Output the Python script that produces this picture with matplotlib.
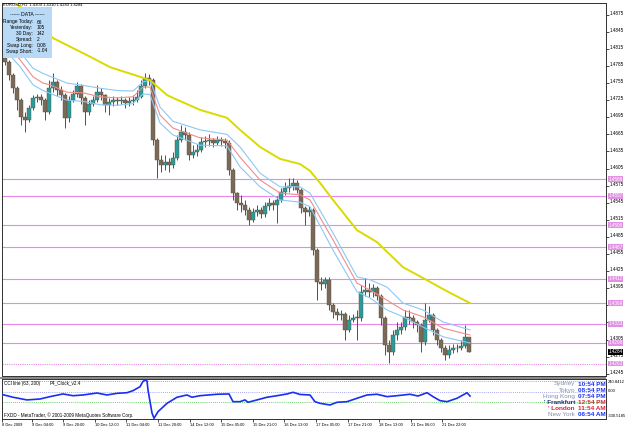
import numpy as np
import matplotlib.pyplot as plt
import matplotlib.transforms as mtransforms
from matplotlib.patches import Rectangle

plt.rcParams['font.family'] = ['Liberation Sans Narrow', 'Liberation Sans', 'DejaVu Sans']

# ---- data (EURUSD, bars) ----
first_open = 1.4799
closes = [
    1.4792, 1.4769, 1.4746, 1.4725, 1.4696, 1.4690, 1.4711, 1.4729, 1.4731, 1.4725,
    1.4704, 1.4746, 1.4757, 1.4743, 1.4734, 1.4694, 1.4725, 1.4736, 1.4750, 1.4729,
    1.4704, 1.4718, 1.4725, 1.4739, 1.4734, 1.4717, 1.4722, 1.4725, 1.4724, 1.4725,
    1.4720, 1.4724, 1.4725, 1.4731, 1.4750, 1.4764, 1.4760, 1.4655, 1.4620, 1.4611,
    1.4617, 1.4611, 1.4624, 1.4655, 1.4669, 1.4664, 1.4629, 1.4634, 1.4638, 1.4652,
    1.4653, 1.4655, 1.4650, 1.4655, 1.4653, 1.4650, 1.4603, 1.4562, 1.4545, 1.4541,
    1.4532, 1.4515, 1.4529, 1.4532, 1.4525, 1.4539, 1.4545, 1.4541, 1.4550, 1.4564,
    1.4571, 1.4574, 1.4580, 1.4567, 1.4536, 1.4529, 1.4532, 1.4462, 1.4406, 1.4403,
    1.4410, 1.4366, 1.4353, 1.4348, 1.4350, 1.4322, 1.4339, 1.4343, 1.4343, 1.4389,
    1.4392, 1.4389, 1.4396, 1.4381, 1.4343, 1.4296, 1.4283, 1.4313, 1.4322, 1.4327,
    1.4345, 1.4343, 1.4336, 1.4331, 1.4301, 1.4339, 1.4348, 1.4322, 1.4304, 1.4290,
    1.4278, 1.4287, 1.4290, 1.4290, 1.4294, 1.4309, 1.4284]
highs = [
    1.4804, 1.4796, 1.4772, 1.4750, 1.4729, 1.4704, 1.4717, 1.4734, 1.4736, 1.4735,
    1.4729, 1.4760, 1.4773, 1.4760, 1.4750, 1.4738, 1.4732, 1.4743, 1.4757, 1.4753,
    1.4732, 1.4725, 1.4732, 1.4752, 1.4746, 1.4736, 1.4729, 1.4732, 1.4731, 1.4732,
    1.4729, 1.4731, 1.4734, 1.4743, 1.4760, 1.4773, 1.4771, 1.4764, 1.4659, 1.4629,
    1.4629, 1.4624, 1.4634, 1.4664, 1.4681, 1.4678, 1.4669, 1.4646, 1.4648, 1.4660,
    1.4662, 1.4666, 1.4659, 1.4662, 1.4660, 1.4659, 1.4655, 1.4606, 1.4564, 1.4559,
    1.4550, 1.4538, 1.4536, 1.4541, 1.4538, 1.4546, 1.4553, 1.4550, 1.4557, 1.4571,
    1.4581, 1.4589, 1.4589, 1.4585, 1.4571, 1.4539, 1.4539, 1.4536, 1.4466, 1.4415,
    1.4415, 1.4414, 1.4369, 1.4360, 1.4357, 1.4353, 1.4348, 1.4350, 1.4357, 1.4401,
    1.4413, 1.4404, 1.4403, 1.4399, 1.4385, 1.4346, 1.4304, 1.4322, 1.4336, 1.4336,
    1.4357, 1.4357, 1.4348, 1.4339, 1.4334, 1.4369, 1.4364, 1.4352, 1.4325, 1.4308,
    1.4296, 1.4296, 1.4297, 1.4297, 1.4304, 1.4331, 1.4310]
lows = [
    1.4787, 1.4760, 1.4738, 1.4708, 1.4681, 1.4669, 1.4686, 1.4708, 1.4722, 1.4717,
    1.4690, 1.4700, 1.4739, 1.4732, 1.4725, 1.4676, 1.4687, 1.4722, 1.4731, 1.4718,
    1.4681, 1.4699, 1.4715, 1.4722, 1.4725, 1.4704, 1.4699, 1.4715, 1.4717, 1.4718,
    1.4711, 1.4715, 1.4717, 1.4722, 1.4729, 1.4746, 1.4752, 1.4646, 1.4589, 1.4599,
    1.4603, 1.4599, 1.4606, 1.4620, 1.4652, 1.4655, 1.4620, 1.4624, 1.4627, 1.4634,
    1.4643, 1.4645, 1.4643, 1.4646, 1.4645, 1.4641, 1.4594, 1.4550, 1.4532, 1.4529,
    1.4524, 1.4506, 1.4511, 1.4522, 1.4518, 1.4520, 1.4532, 1.4532, 1.4510, 1.4546,
    1.4559, 1.4564, 1.4567, 1.4562, 1.4527, 1.4506, 1.4522, 1.4453, 1.4374, 1.4392,
    1.4396, 1.4357, 1.4343, 1.4339, 1.4339, 1.4304, 1.4318, 1.4336, 1.4304, 1.4338,
    1.4381, 1.4380, 1.4380, 1.4374, 1.4331, 1.4278, 1.4264, 1.4278, 1.4304, 1.4315,
    1.4322, 1.4332, 1.4325, 1.4318, 1.4283, 1.4296, 1.4335, 1.4313, 1.4296, 1.4283,
    1.4269, 1.4273, 1.4281, 1.4283, 1.4287, 1.4290, 1.4283]

# slow moving average (yellow)
ma_x = [-1, 2, 3.25, 12, 20.5, 26.25, 33.75, 36.25, 40.5, 42, 48.75, 55.5, 58.75,
        63.75, 68.75, 73.75, 76.25, 78.75, 82, 88, 93, 99.5, 104.5, 111.25, 116.25]
ma_slow = [1.4915, 1.4901, 1.4892, 1.4834, 1.4804, 1.4783, 1.4766, 1.4760, 1.4734,
           1.4729, 1.4708, 1.4694, 1.4673, 1.4643, 1.4622, 1.4613, 1.4601, 1.4580,
           1.4550, 1.4497, 1.4476, 1.4432, 1.4413, 1.4387, 1.4369]

# envelope: middle (red) and bands (blue)
env_x = [0, 3.75, 7, 9.5, 11.25, 15.5, 19.5, 23.75, 28, 32, 34.5, 36.25, 38.75, 42,
         48.75, 55.5, 58.75, 63.75, 68.75, 73.75, 76.25, 82, 88, 91.25, 95.5, 99.5,
         104.5, 109.5, 116.25]
env_mid = [1.4827, 1.4796, 1.4766, 1.4755, 1.4752, 1.4739, 1.4738, 1.4731, 1.4729,
           1.4731, 1.4748, 1.4748, 1.4699, 1.4676, 1.4659, 1.4655, 1.4625, 1.4585,
           1.4562, 1.4559, 1.4550, 1.4480, 1.4404, 1.4392, 1.4374, 1.4357, 1.4345,
           1.4325, 1.4313]
env_up = [1.4840, 1.4810, 1.4781, 1.4772, 1.4767, 1.4755, 1.4751, 1.4746, 1.4742,
          1.4741, 1.4757, 1.4760, 1.4713, 1.4688, 1.4673, 1.4665, 1.4643, 1.4597,
          1.4573, 1.4573, 1.4562, 1.4492, 1.4415, 1.4410, 1.4397, 1.4369, 1.4357,
          1.4336, 1.4322]
env_dn = [1.4813, 1.4784, 1.4752, 1.4742, 1.4737, 1.4725, 1.4723, 1.4717, 1.4716,
          1.4719, 1.4736, 1.4735, 1.4685, 1.4664, 1.4646, 1.4645, 1.4608, 1.4573,
          1.4550, 1.4546, 1.4538, 1.4462, 1.4389, 1.4378, 1.4357, 1.4345, 1.4327,
          1.4310, 1.4299]

levels = [1.4586, 1.4557, 1.4506, 1.4467, 1.4412, 1.4369, 1.4333, 1.4299]
low_level = 1.4263
bid = 1.4284
price_ticks = [1.4875, 1.4845, 1.4815, 1.4785, 1.4755, 1.4725, 1.4695, 1.4665,
               1.4635, 1.4605, 1.4575, 1.4545, 1.4515, 1.4485, 1.4455, 1.4425,
               1.4395, 1.4365, 1.4335, 1.4305, 1.4275, 1.4245]
hidden_ticks = [1.4365, 1.4335]   # covered by the level boxes in the terminal

cci_x = [-1.25, 2, 5.5, 8.75, 11.25, 14.5, 17, 19.5, 23, 25.5, 28, 30.5, 32, 33.75,
         34.5, 35, 35.5, 35.75, 36.75, 37.25, 38.25, 40.5, 43, 45.5, 46.75, 48.75, 53,
         56, 57, 58.75, 60, 60.75, 63, 65.5, 68, 70.5, 72, 73.75, 76.25, 77.5, 78.75,
         81.25, 83, 85.5, 88, 90.5, 93, 95.5, 98, 101.25, 103.25, 105.5, 107, 108.75,
         110.5, 113, 114.5, 115.5, 116.25]
cci = [-22, -54, -80, -71, -48, -22, -39, -32, -13, -32, -16, -10, 10, 48,
       100, 112, 104, 16, -207, -258, -194, -113, -54, -32, -54, -39, -25,
       -22, -97, -97, -80, -103, -80, -54, -39, -22, -6, -27, -32, -97, -113,
       -129, -103, -97, -64, -32, -25, -48, -39, -25, -42, -10, -48, -87,
       -97, -64, -32, -10, -42]

time_labels = ["8 Dec 2009", "9 Dec 04:00", "9 Dec 20:00", "10 Dec 12:00",
               "11 Dec 04:00", "11 Dec 20:00", "14 Dec 12:00", "15 Dec 05:00",
               "15 Dec 21:00", "16 Dec 13:00", "17 Dec 05:00", "17 Dec 21:00",
               "18 Dec 13:00", "21 Dec 06:00", "21 Dec 22:00"]

info_labels = ["Range Today:", "Yesterday:", "30 Day:", "Spread:", "Swap Long:", "Swap Short:"]
info_values = ["66", "105", "142", "2", "0.08", "-1.04"]

cities = ["Sydney", "Tokyo", "Hong Kong", "' Frankfurt", "' London", "New York"]
times = ["10:54 PM", "08:54 PM", "07:54 PM", "12:54 PM", "11:54 AM", "06:54 AM"]
city_colors = ["#8090b0", "#8090b0", "#8090b0", "#1c2a78", "#e0203a", "#8090b0"]
time_colors = ["#1a32f0", "#1a32f0", "#1a32f0", "#e0203a", "#e0203a", "#1a32f0"]

# ---- figure ----
W, H = 625, 429
fig = plt.figure(figsize=(W / 100, H / 100), dpi=100)
fx = lambda px: px / W
fy = lambda py: 1 - py / H

ax = fig.add_axes([fx(2), fy(376), fx(606) - fx(2), fy(3) - fy(376)])
sub = fig.add_axes([fx(2), fy(419), fx(606) - fx(2), fy(379) - fy(419)])

XMIN, XMAX = -0.75, 150.25
ax.set_xlim(XMIN, XMAX)
ax.set_ylim(1.42411, 1.48955)

wick = '#5e4e3e'
opens = [first_open] + closes[:-1]
idx = np.arange(len(closes))
o = np.array(opens)
c = np.array(closes)
up = c > o
ax.vlines(idx, lows, highs, color=wick, lw=0.7, zorder=3)
ax.bar(idx, np.maximum(np.abs(c - o), 0.00008), bottom=np.minimum(o, c), width=0.78,
       color=np.where(up, '#2a9a9a', '#7a6a5a'), edgecolor=wick, linewidth=0.3, zorder=4)

for p in levels:
    ax.axhline(p, color='#ea88ea', lw=0.8, zorder=2)
ax.axhline(low_level, color='#ea88ea', lw=0.8, ls=(0, (1, 1)), zorder=2)

ax.plot(env_x, env_up, color='#8cc8f4', lw=0.8, zorder=5)
ax.plot(env_x, env_dn, color='#8cc8f4', lw=0.8, zorder=5)
ax.plot(env_x, env_mid, color='#f08c8c', lw=0.8, zorder=5)
ax.plot(ma_x, ma_slow, color='#dada00', lw=1.4, zorder=6)

ax.set_xticks([])
ax.yaxis.tick_right()
ax.set_yticks(price_ticks)
ax.set_yticklabels(['' if p in hidden_ticks else f'{p:.4f}' for p in price_ticks])
ax.tick_params(axis='y', length=2, width=0.5, labelsize=3.3, pad=1)
# the terminal prints scale labels a touch above their tick
lift = mtransforms.ScaledTranslation(0, 1.3 / 72, fig.dpi_scale_trans)
for lbl in ax.get_yticklabels():
    lbl.set_transform(lbl.get_transform() + lift)
for s in ax.spines.values():
    s.set_color('#303030')
    s.set_linewidth(0.7)

tr = mtransforms.blended_transform_factory(ax.transAxes, ax.transData)
for p in levels + [low_level]:
    ax.text(1.004, p, f'{p:.4f}', transform=tr, ha='left', va='center', fontsize=3.3,
            color='white', clip_on=False, zorder=8,
            bbox=dict(boxstyle='square,pad=0.1', fc='#e290e2', ec='none'))
ax.text(1.004, bid, f'{bid:.4f}', transform=tr, ha='left', va='center', fontsize=3.3,
        color='white', clip_on=False, zorder=8,
        bbox=dict(boxstyle='square,pad=0.1', fc='black', ec='none'))

fig.text(fx(3), fy(5), 'EURUSD,H1  1.4309 1.4310 1.4283 1.4284', fontsize=3.0,
         ha='left', va='center', color='black')

# info box
fig.add_artist(Rectangle((fx(3), fy(58)), fx(52) - fx(3), fy(7) - fy(58),
                         transform=fig.transFigure, fc='#b8daf6', ec='none', zorder=8))
fig.text(fx(27), fy(15), '------ DATA ------', fontsize=3.6, ha='center', va='center', zorder=9)
for k, (lb, v) in enumerate(zip(info_labels, info_values)):
    yy = 22 + k * 5.8
    fig.text(fx(33), fy(yy), lb, fontsize=3.5, ha='right', va='center', zorder=9)
    fig.text(fx(37), fy(yy), v, fontsize=3.5, ha='left', va='center', zorder=9)

# separator band between panels
fig.add_artist(Rectangle((0, fy(378.5)), fx(606), fy(376.5) - fy(378.5),
                         transform=fig.transFigure, fc='#8a8a8a', ec='none', zorder=1))

# ---- indicator panel ----
sub.set_xlim(XMIN, XMAX)
sub.set_ylim(-265, 123)
sub.axhline(100, color='#f06060', lw=0.6, ls=(0, (1, 1.5)))
sub.axhline(0, color='#8c8cf0', lw=0.6, ls=(0, (1, 1.5)))
sub.axhline(-100, color='#40c040', lw=0.6, ls=(0, (1, 1.5)))
sub.plot(cci_x, cci, color='#1a2ff0', lw=1.2, zorder=4)
sub.set_yticks([])
tick_pos = [max(7.9 * k - 1.25, -0.7) for k in range(len(time_labels))]
sub.set_xticks(tick_pos)
sub.set_xticklabels(time_labels)
for lbl in sub.get_xticklabels():
    lbl.set_ha('left')
sub.tick_params(axis='x', length=2, width=0.5, labelsize=2.9, pad=1)
for s in sub.spines.values():
    s.set_color('#303030')
    s.set_linewidth(0.7)

fig.text(fx(4), fy(383), 'CCI line (63, 200)', fontsize=3.3, ha='left', va='center')
fig.text(fx(50), fy(383), 'P4_Clock_v2.4', fontsize=3.3, ha='left', va='center')
fig.text(fx(4), fy(415), 'FXDD - MetaTrader, \u00a9 2001-2009 MetaQuotes Software Corp.',
         fontsize=3.3, ha='left', va='center')
fig.text(fx(608), fy(382), '240.8412', fontsize=3.0, ha='left', va='center')
fig.text(fx(608), fy(391), '0.00', fontsize=3.0, ha='left', va='center')
fig.text(fx(607.5), fy(416), '-330.5185', fontsize=3.0, ha='left', va='center')

for k in range(len(cities)):
    yy = 384 + k * 6.2
    bold = 'bold' if k in (3, 4) else 'normal'
    fig.text(fx(575), fy(yy), cities[k], fontsize=4.6, ha='right', va='center',
             color=city_colors[k], fontweight=bold)
    fig.text(fx(578), fy(yy), times[k], fontsize=4.6, ha='left', va='center',
             color=time_colors[k], fontweight='bold')

fig.savefig('out.png', dpi=100)
